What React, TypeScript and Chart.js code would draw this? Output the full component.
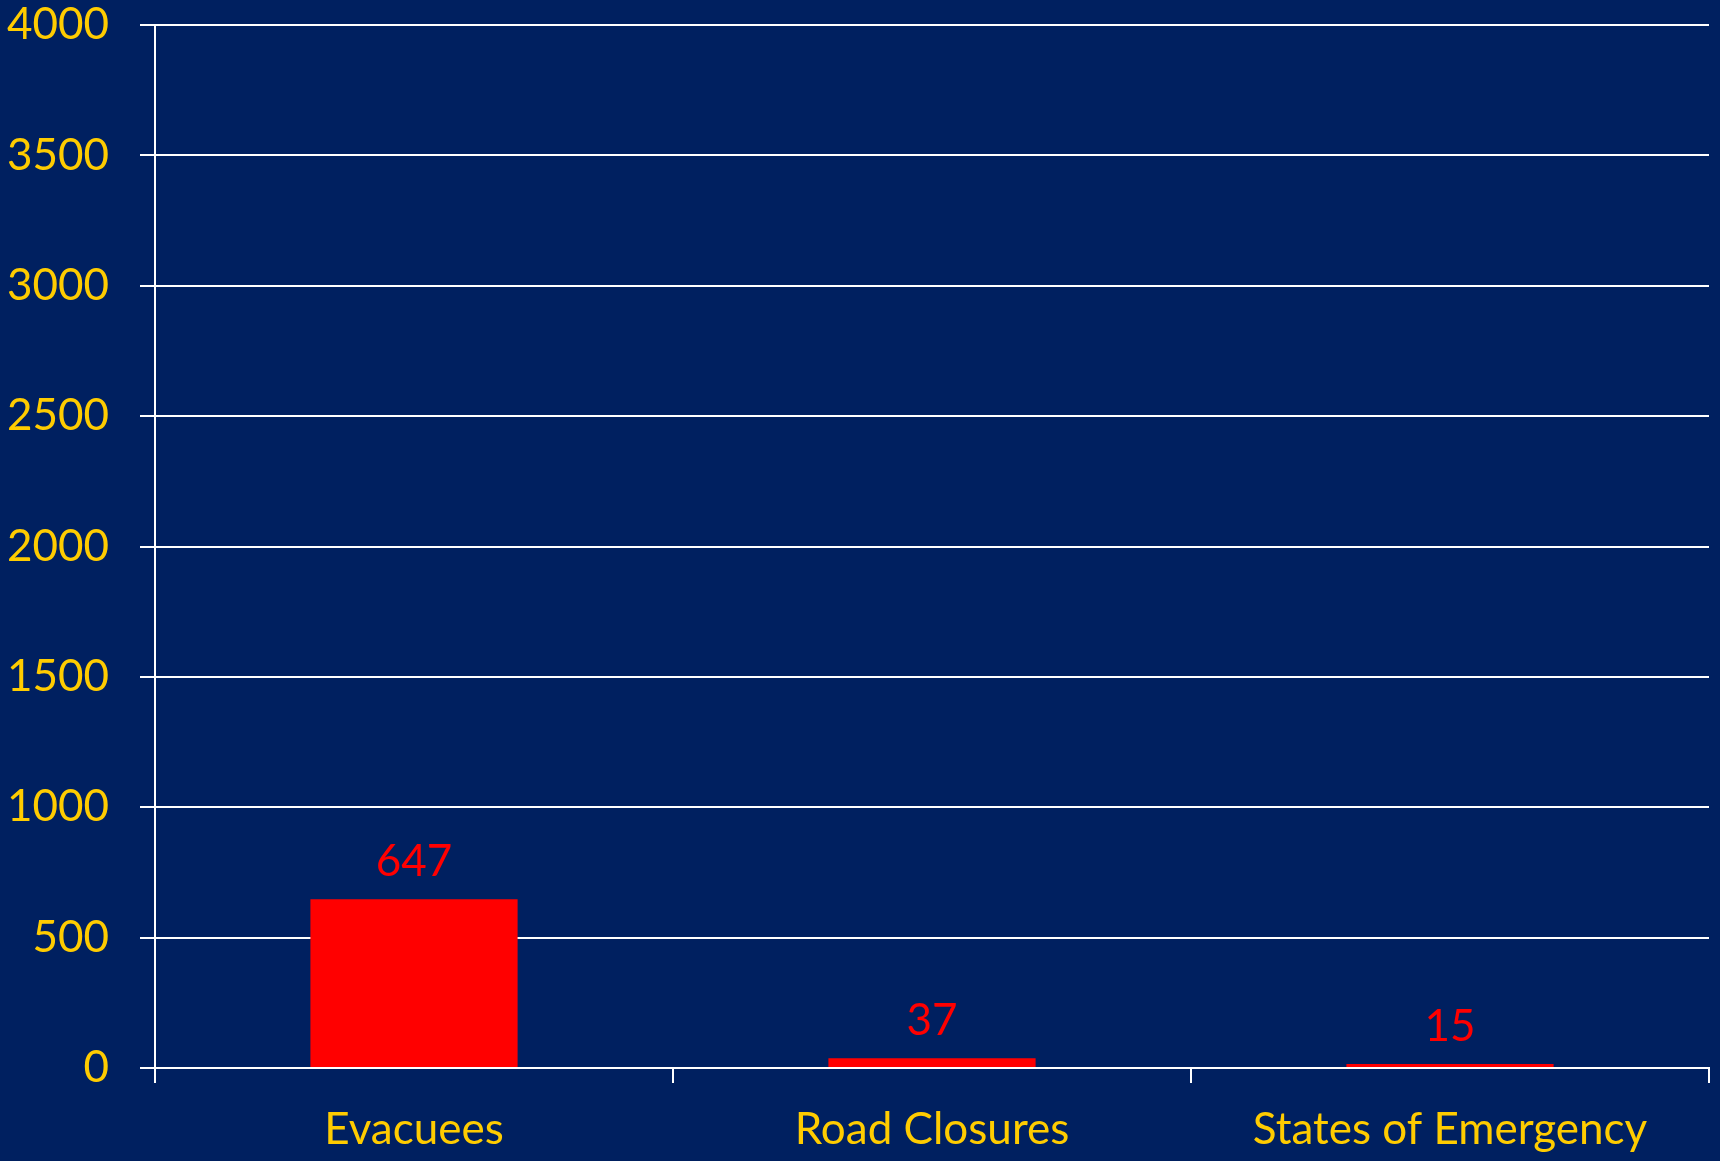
import React, { useEffect, useRef } from "react";
import { Chart, registerables } from "chart.js";

Chart.register(...registerables);

const categories = ["Evacuees", "Road Closures", "States of Emergency"];
const values = [647, 37, 15];
const yTicks = [0, 500, 1000, 1500, 2000, 2500, 3000, 3500, 4000];

const BG = "#002060";
const YELLOW = "#FFCC00";
const RED = "#FF0000";
const FONT = "Lato, 'Open Sans', sans-serif";

const valueLabels = {
  id: "valueLabels",
  afterDatasetsDraw(chart: any) {
    const ctx = chart.ctx;
    const meta = chart.getDatasetMeta(0);
    ctx.save();
    ctx.fillStyle = RED;
    ctx.font = `44px ${FONT}`;
    ctx.textAlign = "center";
    ctx.textBaseline = "alphabetic";
    meta.data.forEach((el: any, i: number) => {
      ctx.fillText(String(values[i]), el.x, el.y - 23);
    });
    ctx.restore();
  },
};

export default function App() {
  const ref = useRef<HTMLCanvasElement>(null);
  useEffect(() => {
    document.body.style.margin = "0";
    document.body.style.background = BG;
    const chart = new Chart(ref.current as HTMLCanvasElement, {
      type: "bar",
      data: {
        labels: categories,
        datasets: [
          {
            data: values,
            backgroundColor: RED,
            borderWidth: 0,
            categoryPercentage: 1,
            barPercentage: 0.4,
          },
        ],
      },
      options: {
        animation: false,
        responsive: false,
        maintainAspectRatio: false,
        layout: { padding: { top: 25, right: 11, left: 0, bottom: 0 } },
        plugins: { legend: { display: false }, tooltip: { enabled: false } },
        scales: {
          x: {
            grid: {
              display: true,
              drawOnChartArea: false,
              drawTicks: true,
              tickLength: 15,
              color: "#FFFFFF",
              lineWidth: 2,
              offset: true,
            },
            border: { display: true, color: "#FFFFFF", width: 2 },
            ticks: {
              color: YELLOW,
              font: { family: FONT, size: 44 },
              padding: 20,
              maxRotation: 0,
            },
            afterFit(s: any) {
              s.height = 93;
              s.paddingLeft = 0;
              s.paddingRight = 0;
            },
          },
          y: {
            min: 0,
            max: 4000,
            afterBuildTicks(s: any) {
              s.ticks = yTicks.map((v) => ({ value: v }));
            },
            grid: {
              color: "#FFFFFF",
              lineWidth: 2,
              tickLength: 15,
            },
            border: { display: true, color: "#FFFFFF", width: 2 },
            ticks: {
              color: YELLOW,
              font: { family: FONT, size: 44 },
              padding: 31,
              callback: (v: any) => String(v),
            },
            afterFit(s: any) {
              s.width = 155;
              s.paddingTop = 0;
              s.paddingBottom = 0;
            },
          },
        },
      },
      plugins: [valueLabels],
    });
    return () => chart.destroy();
  }, []);
  return (
    <div style={{ width: 1720, height: 1161, background: BG }}>
      <canvas ref={ref} width={1720} height={1161} style={{ display: "block" }} />
    </div>
  );
}
